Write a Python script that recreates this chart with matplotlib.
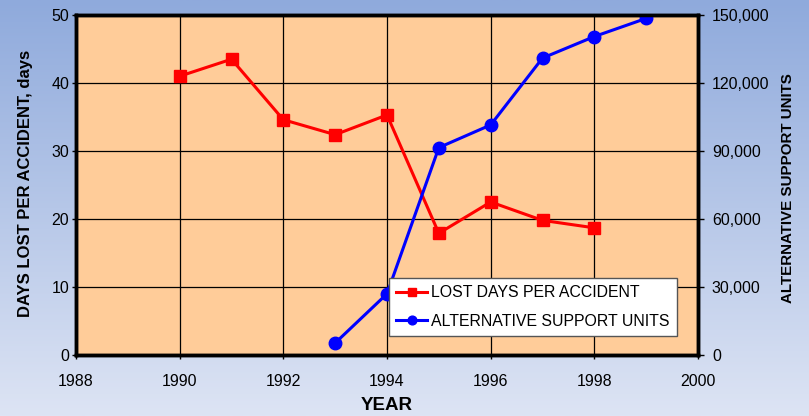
import numpy as np
import matplotlib.pyplot as plt
from matplotlib.colors import LinearSegmentedColormap

# data
years_lost = [1990, 1991, 1992, 1993, 1994, 1995, 1996, 1997, 1998]
lost_days = [41.0, 43.5, 34.6, 32.4, 35.3, 17.9, 22.5, 19.8, 18.7]
years_units = [1993, 1994, 1995, 1996, 1997, 1998, 1999]
support_units = [5300, 27000, 91500, 101500, 131000, 140500, 148500]

plt.rcParams['font.family'] = ['Liberation Sans', 'DejaVu Sans']

W, H = 809, 416
fig = plt.figure(figsize=(W / 100, H / 100), dpi=100)

# gradient background
bg = fig.add_axes([0, 0, 1, 1], zorder=-10)
cmap = LinearSegmentedColormap.from_list('bg', ['#8faadc', '#dde4f4'])
bg.imshow(np.linspace(0, 1, 256).reshape(-1, 1), aspect='auto', cmap=cmap,
          extent=[0, 1, 0, 1])
bg.axis('off')

ax = fig.add_axes([76 / W, 1 - 355 / H, 622 / W, 340 / H])
ax.set_facecolor('#ffcc99')
ax.plot(years_lost, lost_days, color='red', lw=2.2, marker='s', ms=9,
        label='LOST DAYS PER ACCIDENT', zorder=3)
ax.set_xlim(1988, 2000)
ax.set_ylim(0, 50)
ax.set_xticks(range(1988, 2001, 2))
ax.set_yticks(range(0, 51, 10))
ax.grid(True, color='black', lw=0.9)
ax.set_axisbelow(True)
for s in ax.spines.values():
    s.set_linewidth(2.5)
ax.tick_params(axis='x', labelsize=11.5, length=3, width=1, pad=11)
ax.tick_params(axis='y', labelsize=11.5, length=3, width=1, pad=2)

ax2 = ax.twinx()
ax2.plot(years_units, support_units, color='blue', lw=2.2, marker='o', ms=9,
         label='ALTERNATIVE SUPPORT UNITS')
ax2.set_ylim(0, 150000)
ax2.set_yticks(range(0, 150001, 30000))
ax2.set_yticklabels([f'{v:,}' for v in range(0, 150001, 30000)])
ax2.tick_params(labelsize=11.5, length=4, width=1, pad=6)
for s in ax2.spines.values():
    s.set_linewidth(2.5)

# axis titles
fig.text(26 / W, 1 - 183 / H, 'DAYS LOST PER ACCIDENT, days', fontsize=12,
         fontweight='bold', rotation=90, ha='center', va='center')
fig.text(788 / W, 1 - 188 / H, 'ALTERNATIVE SUPPORT UNITS', fontsize=10.9,
         fontweight='bold', rotation=90, ha='center', va='center')
fig.text(387 / W, 1 - 406 / H, 'YEAR', fontsize=13.5, fontweight='bold',
         ha='center', va='center')

h1, l1 = ax.get_legend_handles_labels()
h2, l2 = ax2.get_legend_handles_labels()
leg = ax2.legend(h1 + h2, l1 + l2, loc='lower right',
                 bbox_to_anchor=(601 / 622, 19 / 340), fontsize=11.4,
                 fancybox=False, framealpha=1, edgecolor='#555555',
                 handlelength=2.0, handletextpad=0.25, labelspacing=0.85,
                 markerscale=0.7, borderpad=0.45, borderaxespad=0)
leg.get_frame().set_linewidth(1)

fig.savefig('out.png', dpi=100)
